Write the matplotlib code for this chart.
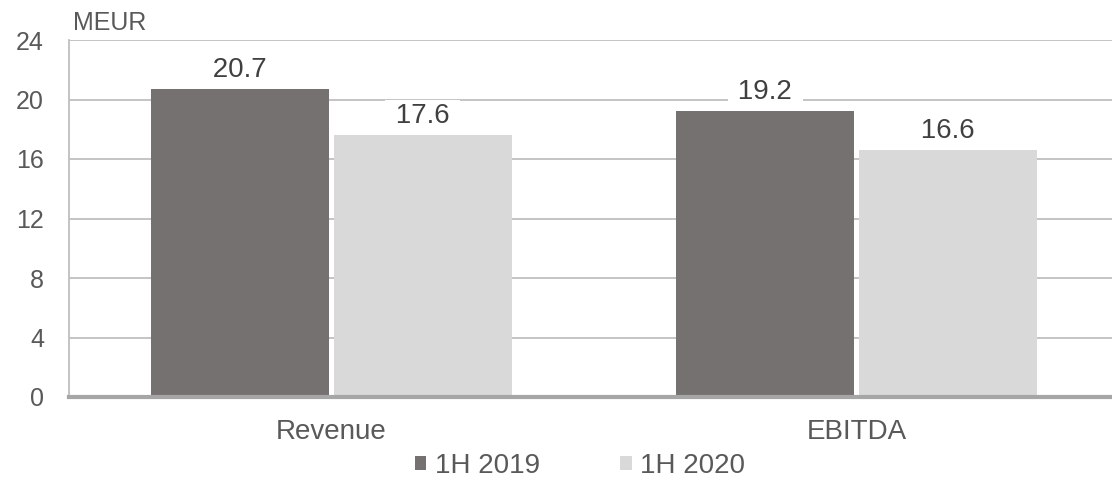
import matplotlib
matplotlib.use("Agg")
import matplotlib.pyplot as plt
import numpy as np

plt.rcParams['font.family'] = ['Liberation Sans', 'DejaVu Sans']

categories = ["Revenue", "EBITDA"]
series_names = ["1H 2019", "1H 2020"]
values_2019 = [20.7, 19.2]
values_2020 = [17.6, 16.6]
yticks = [0, 4, 8, 12, 16, 20, 24]

dark = "#767171"
light = "#D9D9D9"
text_col = "#595959"
grid_col = "#BFBFBF"

fig = plt.figure(figsize=(11.12, 4.8), dpi=100)
ax = fig.add_axes([69 / 1112, 1 - 397 / 480, 1050 / 1112, 357 / 480])

x = np.arange(len(categories))
bw = 0.339
off = 0.174
b1 = ax.bar(x - off, values_2019, bw, color=dark, label=series_names[0], zorder=3)
b2 = ax.bar(x + off, values_2020, bw, color=light, label=series_names[1], zorder=3)

# value labels on a white patch that interrupts the gridlines
for bars, vals in ((b1, values_2019), (b2, values_2020)):
    for rect, v in zip(bars, vals):
        ax.annotate(f" {v:.1f} ", (rect.get_x() + rect.get_width() / 2, v),
                    xytext=(0, 9), textcoords="offset points",
                    ha="center", va="baseline", fontsize=20, color="#404040",
                    bbox=dict(boxstyle="square,pad=0.1", fc="white", ec="none"),
                    zorder=5)

ax.set_xlim(-0.5, 1.5)
ax.set_ylim(0, 24)
ax.set_yticks(yticks)
ax.set_yticklabels([str(t) for t in yticks])
ax.set_xticks(x)
ax.set_xticklabels(categories)
ax.tick_params(axis="y", length=0, pad=18, labelsize=18, labelcolor=text_col)
ax.tick_params(axis="x", length=0, pad=16, labelsize=20, labelcolor=text_col)

ax.yaxis.grid(True, color=grid_col, linewidth=1.3, zorder=0)
ax.set_axisbelow(True)
for s in ("top", "right"):
    ax.spines[s].set_visible(False)
ax.spines["left"].set_color(grid_col)
ax.spines["left"].set_linewidth(1.3)
ax.spines["bottom"].set_color("#A6A6A6")
ax.spines["bottom"].set_linewidth(3)
ax.spines["bottom"].set_zorder(4)

fig.text(73 / 1112, 1 - 22.5 / 480, "MEUR", fontsize=18, color=text_col,
         ha="left", va="center")

leg = fig.legend(handles=[b1, b2], labels=series_names, loc="center",
                 bbox_to_anchor=(580 / 1112, 1 - 466 / 480), ncol=2,
                 frameon=False, fontsize=20, handlelength=0.42, handleheight=0.42,
                 handletextpad=0.3, columnspacing=2.9, labelcolor=text_col,
                 borderpad=0, borderaxespad=0)

fig.savefig("out.png", dpi=100)
